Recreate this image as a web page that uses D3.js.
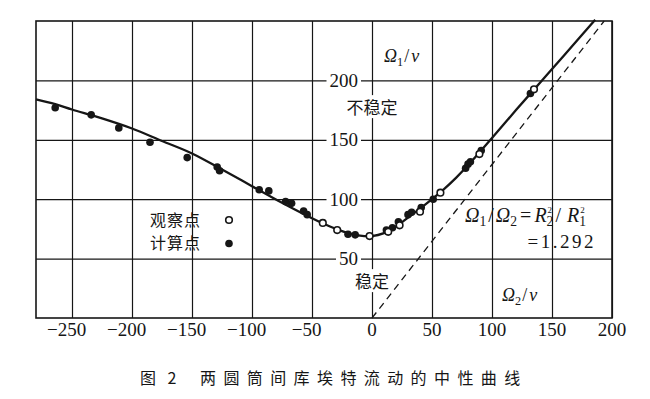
<!DOCTYPE html>
<html>
<head>
<meta charset="utf-8">
<script src="https://cdn.jsdelivr.net/npm/d3@7"></script>
<style>
body { margin: 0; background: #fff; }
svg { display: block; }
</style>
</head>
<body>
<div id="chart"></div>
<script>
// neutral curve (theory): x = Ω2/ν, y = Ω1/ν
var curveX = [-280, -264, -250, -225, -200, -175, -150, -125, -100, -75, -50, -35, -20, -10, 0, 10, 20, 30, 40, 50, 60, 70, 80, 100, 120, 140, 160, 186];
var curveY = [184, 180, 175.5, 168, 159.5, 149, 138.5, 125, 111, 97, 84, 77, 71.5, 69.3, 69, 71.5, 77, 84.5, 92, 100, 108.5, 118, 128.5, 151.5, 175, 198, 221, 251];

// observed points (open circles)
var obsX = [-41, -29, -2, 13.5, 23, 40, 57, 89.5, 135];
var obsY = [80, 74, 69, 72.5, 78, 89.5, 105.5, 138, 192.5];

// computed points (filled circles)
var calcX = [-264, -234, -211, -185, -154, -129, -127, -94, -86, -72, -67, -57, -54, -20, -14, 12, 17, 22, 30, 33, 41, 51, 78, 80, 82, 91, 132];
var calcY = [177, 171, 160, 148, 135, 127, 124, 108, 107, 98, 96.5, 90, 87, 70.5, 70, 74, 76, 81, 87, 89, 93, 100, 126, 129.5, 131.5, 141, 189];

// Ω1/Ω2 = R2²/R1² = 1.292 line
var dashX = [0, 193.5];
var dashY = [0, 250];

var xTicks = [-250, -200, -150, -100, -50, 0, 50, 100, 150, 200];
var yTicks = [50, 100, 150, 200];

var serif = "'Liberation Serif', 'DejaVu Serif', serif";
var cjk = "'Noto Sans CJK SC', sans-serif";
var ink = "#161616";

var width = 650, height = 399;

var x = d3.scaleLinear().domain([-280, 200]).range([36, 612]);
var y = d3.scaleLinear().domain([0, 250]).range([318, 21]);

var svg = d3.select("#chart").append("svg")
    .attr("width", width)
    .attr("height", height);

// grid
var gx = svg.append("g")
    .attr("transform", "translate(0," + y(0) + ")")
    .call(d3.axisBottom(x).tickValues(xTicks).tickSize(-(y(0) - y(250))).tickFormat(""));
gx.select(".domain").remove();
gx.selectAll("line").attr("stroke", ink).attr("stroke-width", 1.2);

var gy = svg.append("g")
    .attr("transform", "translate(" + x(-280) + ",0)")
    .call(d3.axisLeft(y).tickValues(yTicks).tickSize(-(x(200) - x(-280))).tickFormat(""));
gy.select(".domain").remove();
gy.selectAll("line").attr("stroke", ink).attr("stroke-width", 1.2);

// frame
svg.append("rect")
    .attr("x", x(-280)).attr("y", y(250))
    .attr("width", x(200) - x(-280)).attr("height", y(0) - y(250))
    .attr("fill", "none").attr("stroke", ink).attr("stroke-width", 1.6);

// x tick labels, digits centred on the grid line
var xl = svg.append("g").selectAll("text")
    .data(xTicks)
    .enter().append("text")
    .attr("x", function(d) { return x(d); })
    .attr("y", 336)
    .attr("text-anchor", "middle")
    .attr("font-family", serif)
    .attr("font-size", 19)
    .attr("fill", ink)
    .text(function(d) { return d < 0 ? "\u2212" + (-d) : d; });
var minusW = 0;
xl.each(function(d) {
    if (d < 0) {
        var full = this.getComputedTextLength();
        var digits = this.getSubStringLength(1, this.textContent.length - 1);
        minusW = full - digits;
    }
});
xl.attr("dx", function(d) { return d < 0 ? -minusW / 2 : 0; });

// helper: text with a white box behind it
function boxed(g, pad) {
    var b = g.select("text").node().getBBox();
    g.insert("rect", "text")
        .attr("x", b.x - pad).attr("y", b.y + 1)
        .attr("width", b.width + 2 * pad).attr("height", b.height - 2)
        .attr("fill", "#fff");
}

// y tick labels
yTicks.forEach(function(d) {
    var g = svg.append("g");
    g.append("text")
        .attr("x", x(0) - 14)
        .attr("y", y(d))
        .attr("dy", "0.34em")
        .attr("text-anchor", "end")
        .attr("font-family", serif)
        .attr("font-size", 19)
        .attr("fill", ink)
        .text(d);
    boxed(g, 3);
});

// dashed line
var line = d3.line()
    .x(function(d) { return x(d[0]); })
    .y(function(d) { return y(d[1]); });

svg.append("path")
    .datum(d3.zip(dashX, dashY))
    .attr("d", line)
    .attr("fill", "none")
    .attr("stroke", ink)
    .attr("stroke-width", 1.3)
    .attr("stroke-dasharray", "7,5");

// neutral curve
svg.append("path")
    .datum(d3.zip(curveX, curveY))
    .attr("d", line.curve(d3.curveCatmullRom.alpha(0.5)))
    .attr("fill", "none")
    .attr("stroke", ink)
    .attr("stroke-width", 2.3);

// points
svg.append("g").selectAll("circle")
    .data(d3.zip(calcX, calcY))
    .enter().append("circle")
    .attr("cx", function(d) { return x(d[0]); })
    .attr("cy", function(d) { return y(d[1]); })
    .attr("r", 3.8)
    .attr("fill", ink);

svg.append("g").selectAll("circle")
    .data(d3.zip(obsX, obsY))
    .enter().append("circle")
    .attr("cx", function(d) { return x(d[0]); })
    .attr("cy", function(d) { return y(d[1]); })
    .attr("r", 3.3)
    .attr("fill", "#fff")
    .attr("stroke", ink)
    .attr("stroke-width", 1.6);

// small math labels laid out piece by piece
// part: {t, it, sub, sup, gap}
function mathRow(px, py, parts, size) {
    var g = svg.append("g")
        .attr("font-family", serif)
        .attr("fill", ink);
    var cx = px;
    parts.forEach(function(p) {
        cx += p.gap || 0;
        if (p.sub != null) {
            var s = g.append("text").attr("x", cx).attr("y", py + 4)
                .attr("font-size", size * 0.68).text(p.sub);
            var w = s.node().getComputedTextLength();
            if (p.sup != null) {
                var u = g.append("text").attr("x", cx + 1).attr("y", py - 9)
                    .attr("font-size", size * 0.45).text(p.sup);
                w = Math.max(w, u.node().getComputedTextLength() + 1);
            }
            cx += w;
        } else {
            var t = g.append("text").attr("x", cx).attr("y", py)
                .attr("font-size", size).text(p.t);
            if (p.it) t.attr("font-style", "italic");
            cx += t.node().getComputedTextLength();
        }
    });
    return g;
}

mathRow(384, 62, [{t: "\u03A9", it: 1}, {sub: "1"}, {t: "/", gap: 1}, {t: "\u03BD", it: 1, gap: 2}], 18);
mathRow(502, 301, [{t: "\u03A9", it: 1}, {sub: "2"}, {t: "/", gap: 1}, {t: "\u03BD", it: 1, gap: 2}], 18);

mathRow(465, 222, [
    {t: "\u03A9", it: 1}, {sub: "1"}, {t: "/", gap: 2}, {t: "\u03A9", it: 1, gap: 2}, {sub: "2"},
    {t: "=", gap: 3}, {t: "R", it: 1, gap: 3}, {sub: "2", sup: "2"}, {t: "/", gap: 2},
    {t: "R", it: 1, gap: 6}, {sub: "1", sup: "2"}
], 20);

svg.append("text")
    .attr("x", 596).attr("y", 248)
    .attr("text-anchor", "end")
    .attr("font-family", serif)
    .attr("font-size", 19)
    .attr("letter-spacing", 2.5)
    .attr("fill", ink)
    .text("=1.292");

// stability regions
[["\u4E0D\u7A33\u5B9A", 108], ["\u7A33\u5B9A", 282]].forEach(function(d) {
    var g = svg.append("g");
    g.append("text")
        .attr("x", x(0))
        .attr("y", d[1])
        .attr("dy", "0.36em")
        .attr("text-anchor", "middle")
        .attr("font-family", cjk)
        .attr("font-size", 17)
        .attr("fill", ink)
        .text(d[0]);
    boxed(g, 1);
});

// legend
var legend = [["\u89C2\u5BDF\u70B9", 220, "open"], ["\u8BA1\u7B97\u70B9", 243.5, "filled"]];
legend.forEach(function(d) {
    svg.append("text")
        .attr("x", 150).attr("y", d[1])
        .attr("dy", "0.36em")
        .attr("font-family", cjk)
        .attr("font-size", 16)
        .attr("letter-spacing", 1)
        .attr("fill", ink)
        .text(d[0]);
    var c = svg.append("circle")
        .attr("cx", 229).attr("cy", d[1]);
    if (d[2] === "open") {
        c.attr("r", 3.3).attr("fill", "#fff").attr("stroke", ink).attr("stroke-width", 1.6);
    } else {
        c.attr("r", 3.8).attr("fill", ink);
    }
});

// caption
svg.append("text")
    .attr("x", 140).attr("y", 384)
    .attr("font-family", cjk)
    .attr("font-size", 16)
    .attr("letter-spacing", 4)
    .attr("fill", ink)
    .text("\u56FE 2");
svg.append("text")
    .attr("x", 200).attr("y", 384)
    .attr("font-family", cjk)
    .attr("font-size", 16)
    .attr("letter-spacing", 7.4)
    .attr("fill", ink)
    .text("\u4E24\u5706\u7B52\u95F4\u5E93\u57C3\u7279\u6D41\u52A8\u7684\u4E2D\u6027\u66F2\u7EBF");
</script>
</body>
</html>
